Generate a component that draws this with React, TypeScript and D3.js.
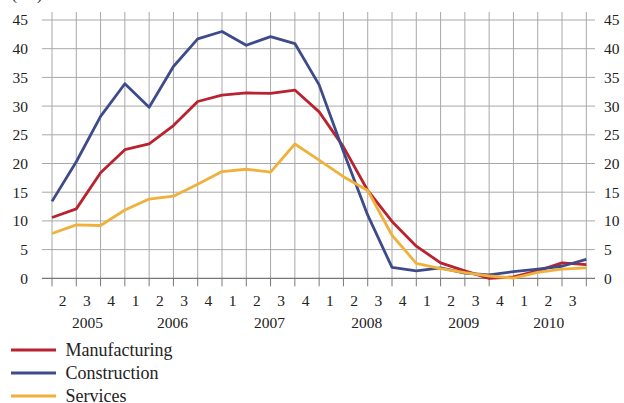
import React from 'react';
import * as d3 from 'd3';

// quarters 2005 Q1 .. 2010 Q3 (points sit on gridlines), labels sit in the bands between them
const quarterLabels = ['2', '3', '4', '1', '2', '3', '4', '1', '2', '3', '4', '1', '2', '3', '4', '1', '2', '3', '4', '1', '2', '3'];
const years = ['2005', '2006', '2007', '2008', '2009', '2010'];
const yearBands = [[0, 2], [3, 6], [7, 10], [11, 14], [15, 18], [19, 21]];

const manufacturing = [10.6, 12.1, 18.4, 22.4, 23.4, 26.6, 30.8, 31.9, 32.3, 32.2, 32.8, 29.0, 22.9, 15.3, 9.9, 5.6, 2.7, 1.3, 0.0, 0.25, 1.3, 2.7, 2.4];
const construction = [13.4, 20.3, 28.2, 33.9, 29.8, 36.9, 41.7, 43.0, 40.6, 42.1, 40.9, 33.7, 22.1, 11.0, 1.9, 1.3, 1.8, 0.9, 0.6, 1.15, 1.6, 2.1, 3.3];
const services = [7.8, 9.3, 9.2, 11.9, 13.8, 14.3, 16.4, 18.6, 19.0, 18.5, 23.4, 20.6, 17.7, 15.3, 7.5, 2.6, 1.7, 1.0, 0.4, 0.05, 1.05, 1.6, 1.8];

const yTicks = [0, 5, 10, 15, 20, 25, 30, 35, 40, 45];

const series = [
  { name: 'Manufacturing', values: manufacturing, color: '#b8232f' },
  { name: 'Construction', values: construction, color: '#3e4b8b' },
  { name: 'Services', values: services, color: '#efb13b' },
];

const font = '"Liberation Serif", "Times New Roman", serif';

export default function App() {
  const width = 624;
  const height = 403;

  const x = d3.scaleLinear().domain([0, manufacturing.length - 1]).range([52, 586.3]);
  const y = d3.scaleLinear().domain([0, 45]).range([278.3, 20]);
  const step = x(1) - x(0);

  const line = d3.line<number>()
    .x((_, i) => x(i))
    .y(d => y(d));

  const gridIdx = d3.range(manufacturing.length);

  return (
    <svg width={width} height={height} style={{ position: 'absolute', left: 0, top: 0, background: '#fff' }} fontFamily={font}>
      <text x={12} y={-0.5} fontSize={15} fill="#222">( % )</text>

      {/* vertical gridlines */}
      {gridIdx.map(i => (
        <line key={'v' + i} x1={x(i)} x2={x(i)} y1={12} y2={y(0)} stroke="#a8a8a8" strokeWidth={1} />
      ))}
      {/* horizontal gridlines */}
      {yTicks.filter(t => t > 0).map(t => (
        <line key={'h' + t} x1={42} x2={595} y1={y(t)} y2={y(t)} stroke="#a8a8a8" strokeWidth={1} />
      ))}
      {/* zero axis + ticks */}
      <line x1={42} x2={595} y1={y(0)} y2={y(0)} stroke="#555" strokeWidth={1} />
      {gridIdx.map(i => (
        <line key={'t' + i} x1={x(i)} x2={x(i)} y1={y(0)} y2={y(0) + 8} stroke="#777" strokeWidth={1} />
      ))}

      {/* y labels both sides */}
      {yTicks.map(t => (
        <g key={'yl' + t}>
          <text x={28} y={y(t)} dy="0.35em" textAnchor="end" fontSize={15.5} fill="#222">{t}</text>
          <text x={604} y={y(t)} dy="0.35em" textAnchor="start" fontSize={15.5} fill="#222">{t}</text>
        </g>
      ))}

      {/* quarter labels */}
      {quarterLabels.map((q, i) => (
        <text key={'q' + i} x={x(i) + step / 2 - 1.5} y={306} textAnchor="middle" fontSize={15.5} fill="#222">{q}</text>
      ))}
      {/* year labels */}
      {years.map((yr, i) => {
        const [a, b] = yearBands[i];
        const cx = (x(a) + x(b + 1)) / 2 - 1;
        return <text key={yr} x={cx} y={328} textAnchor="middle" fontSize={15.5} fill="#222">{yr}</text>;
      })}

      {/* series */}
      {series.map(s => (
        <path key={s.name} d={line(s.values) || ''} fill="none" stroke={s.color} strokeWidth={2.8} strokeLinejoin="round" />
      ))}

      {/* legend */}
      {series.map((s, i) => {
        const ly = 350 + i * 23;
        return (
          <g key={'lg' + s.name}>
            <line x1={11} x2={56} y1={ly} y2={ly} stroke={s.color} strokeWidth={2.8} />
            <text x={65.5} y={ly + 6} fontSize={18} fill="#222">{s.name}</text>
          </g>
        );
      })}
    </svg>
  );
}
